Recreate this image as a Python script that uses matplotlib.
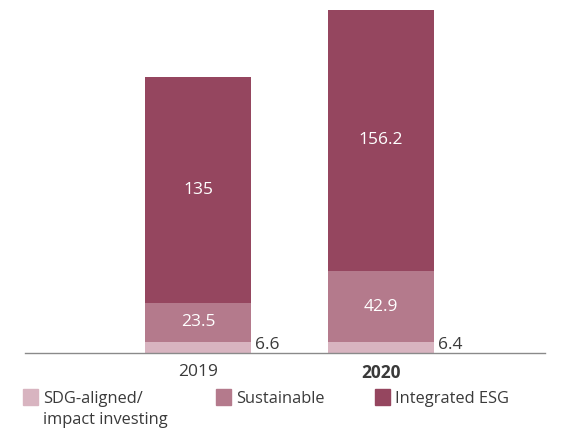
import matplotlib
matplotlib.use("Agg")
import matplotlib.pyplot as plt
from matplotlib.patches import Rectangle
import numpy as np

years = ["2019", "2020"]
series_names = ["SDG-aligned/\nimpact investing", "Sustainable", "Integrated ESG"]
sdg = [6.6, 6.4]
sustainable = [23.5, 42.9]
integrated = [135, 156.2]
colors = ["#D8B4C0", "#B47A8C", "#95465F"]

plt.rcParams['font.family'] = ['Open Sans', 'DejaVu Sans']
txt = "#3a3a3a"
fs = 12.5

fig = plt.figure(figsize=(5.73, 4.30), dpi=100)
W, H = 573, 430
ax = fig.add_axes([25 / W, (H - 353) / H, 520 / W, 343 / H])

x = np.arange(len(years))
w = 0.579
b1 = np.array(sdg)
b2 = b1 + np.array(sustainable)
ax.bar(x, sdg, w, color=colors[0])
ax.bar(x, sustainable, w, bottom=b1, color=colors[1])
ax.bar(x, integrated, w, bottom=b2, color=colors[2])

for i in range(len(years)):
    ax.text(x[i] + w / 2 + 0.02, sdg[i] / 2 + 1.5, f"{sdg[i]}", ha="left", va="center",
            fontsize=fs, color=txt)
    ax.text(x[i], b1[i] + sustainable[i] / 2, f"{sustainable[i]}", ha="center", va="center",
            fontsize=fs, color="white")
    ax.text(x[i], b2[i] + integrated[i] / 2, f"{integrated[i]:g}", ha="center", va="center",
            fontsize=fs, color="white")

ax.set_xlim(-0.945, 1.896)
ax.set_ylim(0, b2[-1] + integrated[-1])
ax.set_yticks([])
ax.set_xticks(x)
ax.set_xticklabels(years, fontsize=fs, color=txt)
ax.get_xticklabels()[1].set_fontweight("bold")
ax.tick_params(axis="x", length=0, pad=8)
for s in ["top", "right", "left"]:
    ax.spines[s].set_visible(False)
ax.spines["bottom"].set_color("#8a8a8a")
ax.spines["bottom"].set_linewidth(1.0)

# legend
leg_x = [23, 216, 375]
for lx, name, c in zip(leg_x, series_names, colors):
    fig.patches.append(Rectangle((lx / W, (H - 405) / H), 15 / W, 16 / H,
                                 transform=fig.transFigure, color=c))
    fig.text((lx + 20) / W, (H - 391) / H, name, ha="left", va="top",
             fontsize=11.8, color=txt, linespacing=1.45)

fig.savefig("out.png", dpi=100)
